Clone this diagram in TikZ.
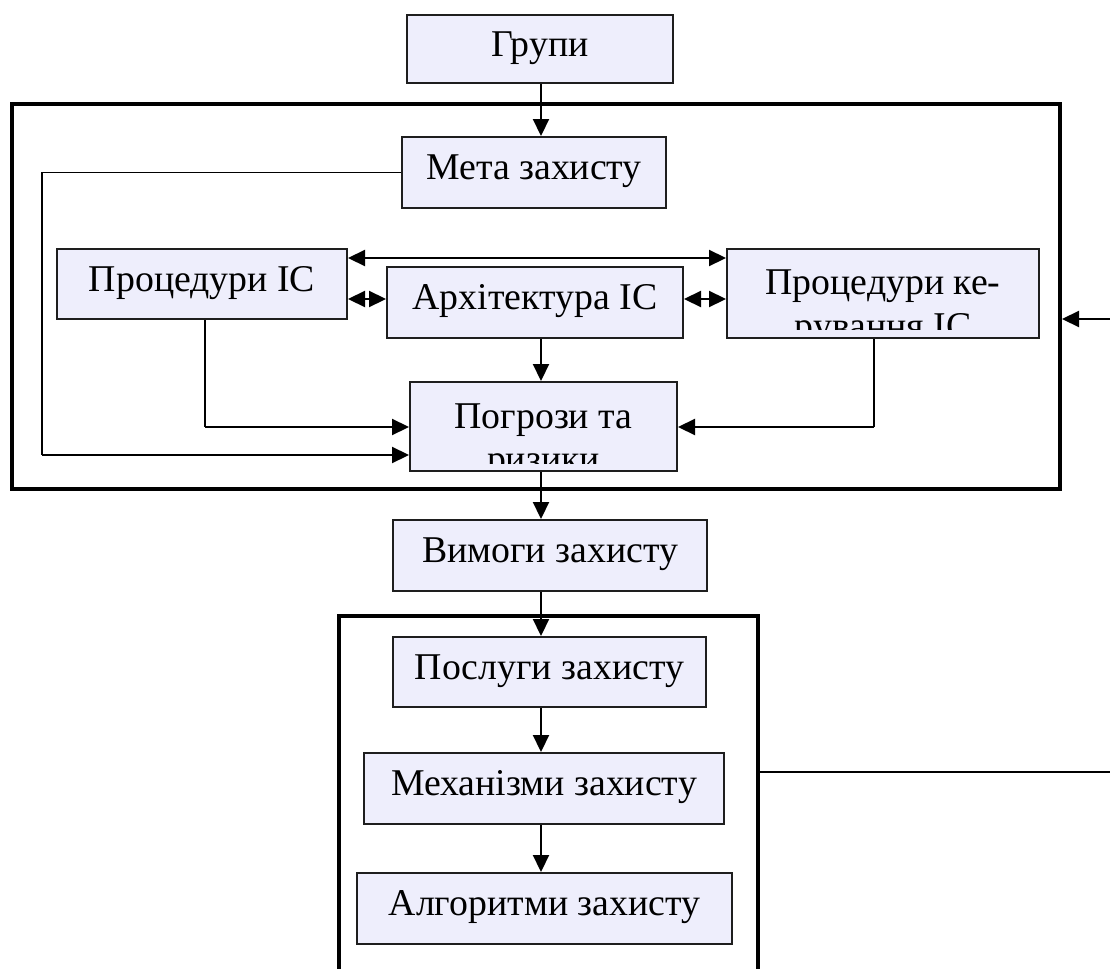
\documentclass[tikz,border=0pt]{standalone}
\usepackage{fontspec}
\setmainfont{Liberation Serif}
\usetikzlibrary{arrows.meta}
\definecolor{boxfill}{RGB}{238,238,252}
\definecolor{boxline}{RGB}{30,30,30}
\begin{document}
\begin{tikzpicture}[x=0.5pt,y=-0.5pt,
  box/.style 2 args={draw=boxline, line width=1pt, fill=boxfill, rectangle,
    inner sep=0pt, minimum width=#1*0.5pt, minimum height=#2*0.5pt,
    font=\fontsize{18.9}{21.5}\selectfont, text height=0.7em, text depth=0pt},
  frame/.style 2 args={draw=black, line width=2pt, rectangle, inner sep=0pt,
    minimum width=#1*0.5pt, minimum height=#2*0.5pt},
  arr/.style={draw=black, line width=1.1pt, -{Triangle[length=8.5pt,width=8pt]}},
  darr/.style={draw=black, line width=1.1pt,
    {Triangle[length=8.5pt,width=8pt]}-{Triangle[length=8.5pt,width=8pt]}},
  thin/.style={draw=black, line width=0.7pt},
  lbl/.style={font=\fontsize{18.9}{21.5}\selectfont, inner sep=0pt, anchor=base}
]
\clip (0,0) rectangle (1110,969);
\fill[white] (0,0) rectangle (1110,969);

% outer frames
\node[frame={1048}{385}] (frameA) at (536,296.5) {};
\node[frame={419}{384}] (frameB) at (548.5,808) {};

% boxes
\node[box={266}{68}] (grp)  at (540,49)    {Групи};
\node[box={264}{71}] (meta) at (534,172.5) {Мета захисту};
\node[box={290}{70}] (proc) at (202,284)   {Процедури ІС};
\node[box={296}{71}] (arch) at (535,302.5) {Архітектура ІС};
\node[box={312}{89}] (upr)  at (883,293.5) {};
\node[box={267}{89}] (thr)  at (543.5,426.5) {};
\node[box={314}{71}] (req)  at (550,555.5) {Вимоги захисту};
\node[box={313}{70}] (serv) at (549.5,672) {Послуги захисту};
\node[box={360}{71}] (mech) at (544,788.5) {Механізми захисту};
\node[box={375}{71}] (alg)  at (544.5,908.5) {Алгоритми захисту};

% two-line labels cut off by their boxes
\begin{scope}
  \clip (upr.north west) rectangle ([yshift=5pt]upr.south east);
  \node[lbl] at (883,294) {Процедури ке-};
  \node[lbl] at (883,338) {рування ІС};
\end{scope}
\begin{scope}
  \clip (thr.north west) rectangle ([yshift=4.5pt]thr.south east);
  \node[lbl] at (543.5,428) {Погрози та};
  \node[lbl] at (543.5,471) {ризики};
\end{scope}

% helper coordinates
\coordinate (spine) at (541,0);
\coordinate (toprow) at (0,258);
\coordinate (midrow) at (0,299);
\coordinate (rowA) at (0,427);
\coordinate (rowB) at (0,455);
\coordinate (procdrop) at (205,0);
\coordinate (uprdrop) at (874,0);
\coordinate (metaleft) at (42,0);
\coordinate (eastA) at (1115,319);
\coordinate (eastB) at (1115,772);

% main vertical chain
\draw[arr] (grp.south -| spine) -- (meta.north -| spine);
\draw[arr] (arch.south -| spine) -- (thr.north -| spine);
\draw[arr] (thr.south -| spine) -- (req.north -| spine);
\draw[arr] (req.south -| spine) -- (serv.north -| spine);
\draw[arr] (serv.south -| spine) -- (mech.north -| spine);
\draw[arr] (mech.south -| spine) -- (alg.north -| spine);

% two-way links between the middle row
\draw[darr] (proc.east |- toprow) -- (upr.west |- toprow);
\draw[darr] (proc.east |- midrow) -- (arch.west |- midrow);
\draw[darr] (arch.east |- midrow) -- (upr.west |- midrow);

% feeds into threats and risks
\draw[thin] (proc.south -| procdrop) -- (procdrop |- rowA);
\draw[arr] (procdrop |- rowA) -- (thr.west |- rowA);
\draw[thin] (upr.south -| uprdrop) -- (uprdrop |- rowA);
\draw[arr] (uprdrop |- rowA) -- (thr.east |- rowA);
\draw[thin] (meta.west) -- (meta.west -| metaleft) -- (metaleft |- rowB);
\draw[arr] (metaleft |- rowB) -- (thr.west |- rowB);

% feedback on the right
\draw[arr] (eastA) -- (frameA.east |- eastA);
\draw[thin, line width=1pt] (frameB.east |- eastB) -- (eastB);
\end{tikzpicture}
\end{document}
